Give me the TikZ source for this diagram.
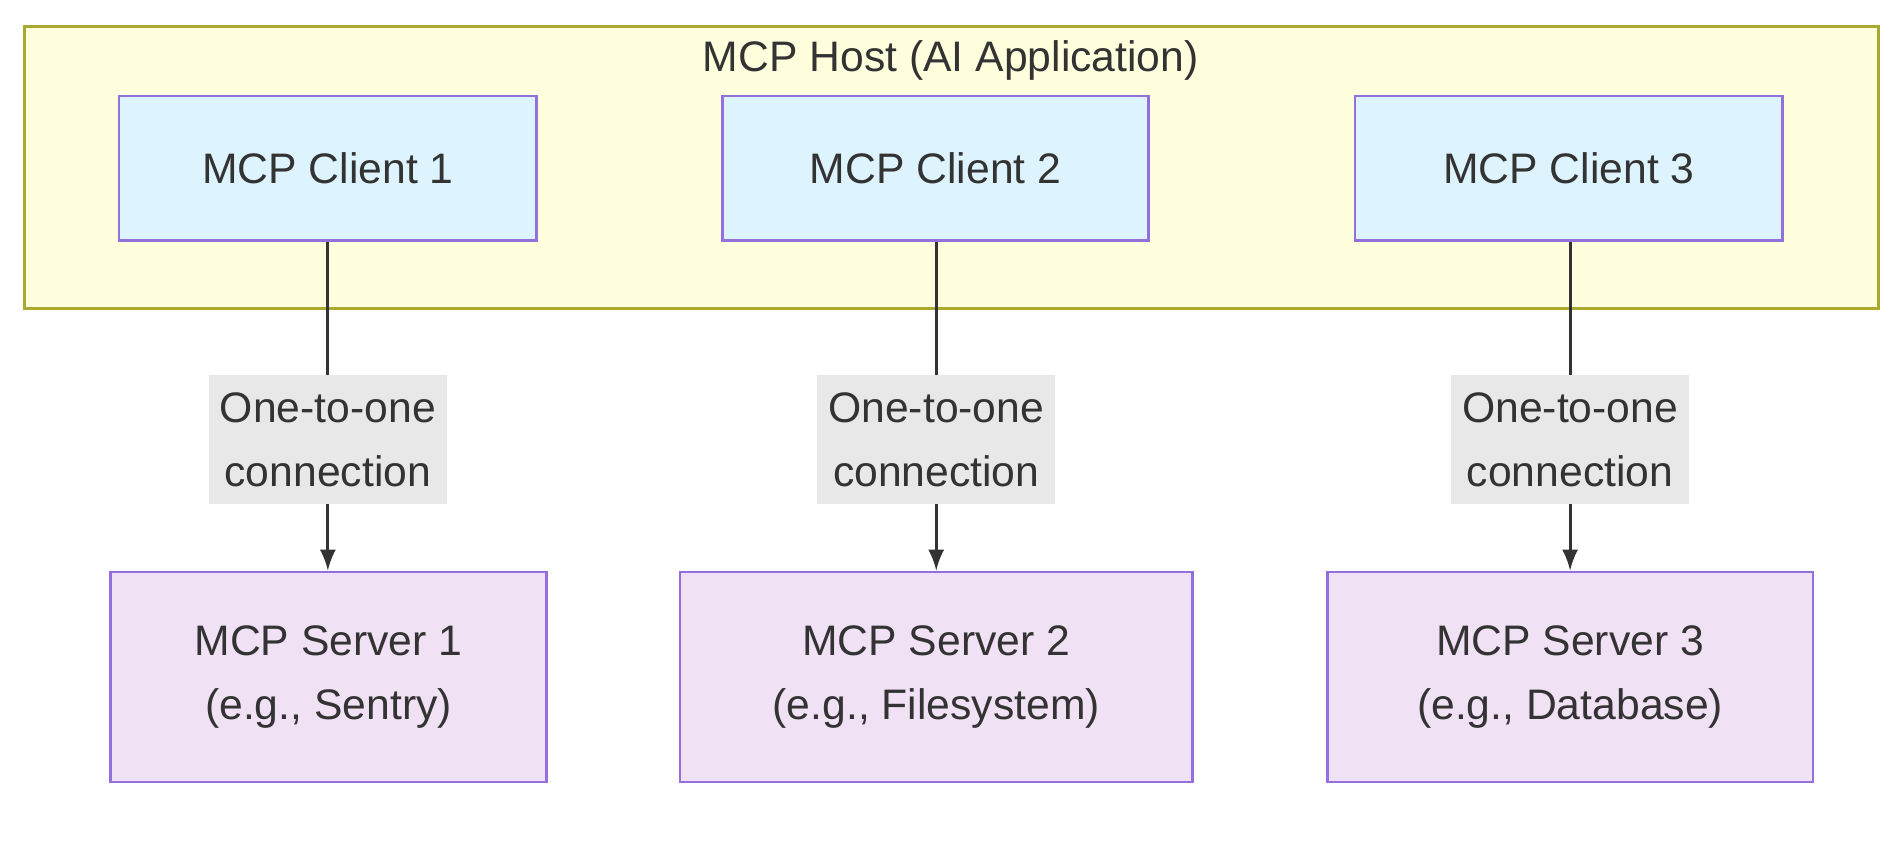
\documentclass[tikz,border=0pt]{standalone}
\usepackage{fontspec}
\setmainfont{Liberation Sans}
\usetikzlibrary{positioning}
\definecolor{hostfill}{HTML}{FFFFDE}
\definecolor{hostline}{HTML}{AAAA33}
\definecolor{clientfill}{HTML}{DDF3FD}
\definecolor{serverfill}{HTML}{F0E1F5}
\definecolor{boxline}{HTML}{9370DB}
\definecolor{labelfill}{HTML}{E8E8E8}
\definecolor{ink}{HTML}{333333}
\tikzset{
  client/.style={draw=boxline, fill=clientfill, line width=0.6pt, minimum height=1.19cm, text=ink, font=\fontsize{10}{15}\selectfont},
  server/.style={draw=boxline, fill=serverfill, line width=0.6pt, minimum height=1.73cm, align=center, text=ink, font=\fontsize{10}{15}\selectfont},
  conn/.style={fill=labelfill, align=center, text=ink, inner sep=1pt, minimum width=1.96cm, minimum height=1.06cm, font=\fontsize{10}{15}\selectfont},
  link/.style={draw=ink, line width=0.7pt, -latex}
}
\begin{document}
\begin{tikzpicture}
\useasboundingbox (0,0) rectangle (15.68,-7.10);

\draw[hostline, fill=hostfill, line width=0.6pt] (0.20,-0.22) rectangle (15.47,-2.54);
\node[text=ink, font=\fontsize{10}{15}\selectfont] (host) at (7.83,-0.50) {MCP Host (AI Application)};

\node[client, minimum width=3.44cm] (c1) at (2.70,-1.385) {MCP Client 1};
\node[client, minimum width=3.51cm] (c2) at (7.705,-1.385) {MCP Client 2};
\node[client, minimum width=3.52cm] (c3) at (12.92,-1.385) {MCP Client 3};

\node[server, minimum width=3.59cm] (s1) at (2.705,-5.575) {MCP Server 1\\(e.g., Sentry)};
\node[server, minimum width=4.22cm] (s2) at (7.71,-5.575) {MCP Server 2\\(e.g., Filesystem)};
\node[server, minimum width=4.00cm] (s3) at (12.93,-5.575) {MCP Server 3\\(e.g., Database)};

\draw[link] (c1.south -| 2.70,0) -- (s1.north -| 2.70,0);
\draw[link] (c2.south -| 7.71,0) -- (s2.north -| 7.71,0);
\draw[link] (c3.south -| 12.93,0) -- (s3.north -| 12.93,0);
\node[conn] (l1) at (2.70,-3.62) {One-to-one\\connection};
\node[conn] (l2) at (7.71,-3.62) {One-to-one\\connection};
\node[conn] (l3) at (12.93,-3.62) {One-to-one\\connection};

\end{tikzpicture}
\end{document}
